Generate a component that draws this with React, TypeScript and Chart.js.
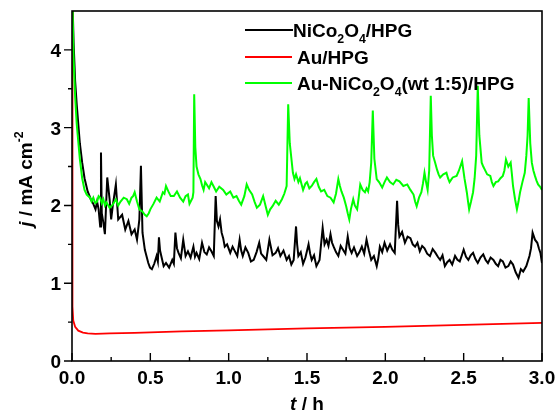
import React, { useEffect, useRef } from 'react';
import { Chart, registerables } from 'chart.js';

Chart.register(...registerables);

// [t (h), j (mA cm^-2)]
const nicoPoints: number[][] = [
  [0, 5.5], [0.005, 4.5], [0.01, 4.1], [0.02, 3.6], [0.03, 3.3], [0.05, 2.8], [0.065, 2.55], [0.08, 2.35],
  [0.1, 2.18], [0.12, 2.08], [0.136, 2.02], [0.15, 1.95], [0.16, 2.05], [0.17, 1.95], [0.18, 1.73], [0.185, 2.68],
  [0.19, 1.9], [0.2, 1.78], [0.21, 1.63], [0.225, 2.36], [0.24, 2.08], [0.25, 1.82], [0.26, 1.99], [0.28, 2.27],
  [0.295, 1.82], [0.32, 1.88], [0.34, 1.69], [0.36, 1.8], [0.38, 1.63], [0.4, 1.69], [0.415, 1.56], [0.43, 1.82],
  [0.44, 2.51], [0.45, 1.65], [0.465, 1.43], [0.487, 1.26], [0.498, 1.2], [0.51, 1.18], [0.525, 1.25], [0.54, 1.35],
  [0.548, 1.28], [0.555, 1.59], [0.562, 1.42], [0.57, 1.35], [0.585, 1.22], [0.6, 1.26], [0.62, 1.2], [0.64, 1.3],
  [0.65, 1.25], [0.66, 1.65], [0.67, 1.45], [0.68, 1.39], [0.695, 1.32], [0.71, 1.56], [0.725, 1.35], [0.74, 1.41],
  [0.757, 1.33], [0.775, 1.47], [0.785, 1.34], [0.795, 1.39], [0.812, 1.31], [0.83, 1.52], [0.845, 1.4], [0.86, 1.37],
  [0.875, 1.46], [0.89, 1.41], [0.905, 1.35], [0.917, 2.12], [0.925, 1.8], [0.935, 1.73], [0.945, 1.82], [0.955, 1.65],
  [0.965, 1.58], [0.975, 1.47], [0.99, 1.5], [1.01, 1.39], [1.025, 1.47], [1.04, 1.41], [1.055, 1.35], [1.07, 1.56],
  [1.08, 1.42], [1.09, 1.35], [1.107, 1.46], [1.125, 1.39], [1.142, 1.28], [1.16, 1.3], [1.178, 1.4], [1.195, 1.52],
  [1.207, 1.38], [1.22, 1.35], [1.24, 1.3], [1.26, 1.56], [1.28, 1.36], [1.3, 1.39], [1.315, 1.45], [1.33, 1.35],
  [1.35, 1.42], [1.37, 1.3], [1.385, 1.35], [1.4, 1.24], [1.415, 1.3], [1.43, 1.73], [1.437, 1.5], [1.445, 1.35],
  [1.46, 1.4], [1.475, 1.25], [1.49, 1.33], [1.51, 1.5], [1.52, 1.38], [1.53, 1.3], [1.545, 1.36], [1.56, 1.22],
  [1.58, 1.3], [1.6, 1.71], [1.612, 1.5], [1.625, 1.56], [1.637, 1.48], [1.65, 1.63], [1.66, 1.52], [1.67, 1.47],
  [1.685, 1.4], [1.7, 1.35], [1.715, 1.48], [1.73, 1.43], [1.745, 1.38], [1.76, 1.6], [1.772, 1.45], [1.785, 1.39],
  [1.8, 1.46], [1.82, 1.35], [1.835, 1.4], [1.85, 1.47], [1.865, 1.38], [1.88, 1.56], [1.895, 1.42], [1.91, 1.3],
  [1.927, 1.35], [1.945, 1.22], [1.955, 1.32], [1.965, 1.47], [1.98, 1.4], [1.995, 1.52], [2.012, 1.42], [2.03, 1.5],
  [2.045, 1.43], [2.06, 1.39], [2.075, 2.06], [2.082, 1.75], [2.09, 1.6], [2.107, 1.66], [2.125, 1.52], [2.142, 1.6],
  [2.16, 1.58], [2.175, 1.5], [2.19, 1.47], [2.205, 1.52], [2.22, 1.41], [2.235, 1.48], [2.25, 1.45], [2.267, 1.38],
  [2.285, 1.35], [2.302, 1.44], [2.32, 1.39], [2.335, 1.34], [2.35, 1.3], [2.365, 1.36], [2.38, 1.22], [2.395, 1.27],
  [2.41, 1.3], [2.427, 1.24], [2.445, 1.35], [2.46, 1.3], [2.475, 1.28], [2.487, 1.35], [2.5, 1.43], [2.515, 1.34],
  [2.53, 1.3], [2.545, 1.36], [2.56, 1.39], [2.575, 1.31], [2.59, 1.26], [2.607, 1.33], [2.625, 1.37], [2.64, 1.3],
  [2.655, 1.26], [2.672, 1.33], [2.69, 1.3], [2.705, 1.25], [2.72, 1.22], [2.735, 1.3], [2.75, 1.28], [2.767, 1.2],
  [2.785, 1.22], [2.8, 1.28], [2.815, 1.24], [2.832, 1.14], [2.85, 1.07], [2.865, 1.18], [2.88, 1.15], [2.9, 1.22],
  [2.92, 1.35], [2.93, 1.45], [2.94, 1.65], [2.955, 1.56], [2.97, 1.52], [2.98, 1.45], [2.99, 1.39], [3.0, 1.26],
];

const auPoints: number[][] = [
  [0, 4.6], [0.002, 1.2], [0.004, 0.7], [0.008, 0.52], [0.02, 0.44], [0.04, 0.39], [0.07, 0.365], [0.1, 0.355],
  [0.15, 0.35], [0.24, 0.355], [0.4, 0.362], [0.7, 0.38], [1.0, 0.395], [1.5, 0.42], [2.0, 0.44], [2.5, 0.465],
  [3.0, 0.49],
];

const mixPoints: number[][] = [
  [0, 5.5], [0.003, 4.6], [0.01, 3.9], [0.02, 3.4], [0.03, 3.05], [0.05, 2.6], [0.065, 2.35], [0.08, 2.2],
  [0.094, 2.14], [0.115, 2.1], [0.125, 2.05], [0.136, 2.1], [0.148, 2.03], [0.16, 2.05], [0.17, 2.12], [0.18, 2.1],
  [0.19, 2.03], [0.2, 2.08], [0.21, 2.0], [0.22, 2.04], [0.24, 1.97], [0.26, 2.01], [0.28, 2.08], [0.295, 2.0],
  [0.31, 2.05], [0.33, 2.1], [0.35, 2.08], [0.365, 2.02], [0.38, 2.1], [0.39, 2.12], [0.4, 2.17], [0.415, 2.05],
  [0.43, 1.95], [0.45, 1.92], [0.465, 1.88], [0.477, 1.86], [0.49, 1.9], [0.5, 1.95], [0.52, 2.02], [0.54, 2.1],
  [0.56, 2.05], [0.58, 2.17], [0.59, 2.15], [0.6, 2.25], [0.615, 2.18], [0.63, 2.12], [0.65, 2.12], [0.67, 2.18],
  [0.69, 2.1], [0.71, 2.05], [0.725, 2.12], [0.74, 2.14], [0.75, 2.02], [0.76, 2.06], [0.77, 2.1], [0.775, 2.17],
  [0.78, 3.43], [0.787, 2.75], [0.795, 2.5], [0.807, 2.4], [0.82, 2.34], [0.83, 2.26], [0.84, 2.2], [0.85, 2.3],
  [0.86, 2.27], [0.875, 2.22], [0.89, 2.3], [0.905, 2.24], [0.92, 2.18], [0.94, 2.24], [0.965, 2.2], [0.985, 2.14],
  [1.01, 2.18], [1.03, 2.1], [1.05, 2.12], [1.065, 2.06], [1.08, 2.01], [1.1, 2.12], [1.115, 2.27], [1.13, 2.2],
  [1.15, 2.14], [1.165, 2.05], [1.18, 1.97], [1.2, 2.01], [1.22, 2.12], [1.235, 2.0], [1.25, 1.88], [1.265, 1.95],
  [1.28, 1.99], [1.3, 2.06], [1.32, 2.01], [1.34, 2.08], [1.355, 2.15], [1.37, 2.25], [1.38, 3.3], [1.39, 2.8],
  [1.41, 2.42], [1.42, 2.34], [1.43, 2.4], [1.445, 2.3], [1.455, 2.35], [1.475, 2.2], [1.49, 2.28], [1.5, 2.3],
  [1.515, 2.22], [1.53, 2.25], [1.545, 2.3], [1.56, 2.34], [1.575, 2.24], [1.59, 2.18], [1.61, 2.2], [1.63, 2.12],
  [1.65, 2.1], [1.67, 2.04], [1.685, 2.15], [1.7, 2.34], [1.71, 2.25], [1.72, 2.18], [1.735, 2.1], [1.75, 1.99],
  [1.76, 1.9], [1.77, 1.82], [1.78, 1.95], [1.795, 2.08], [1.805, 2.0], [1.82, 1.95], [1.83, 2.1], [1.84, 2.27],
  [1.855, 2.2], [1.87, 2.17], [1.88, 2.22], [1.89, 2.18], [1.9, 2.3], [1.91, 2.55], [1.92, 3.22], [1.93, 2.6],
  [1.945, 2.34], [1.96, 2.3], [1.98, 2.23], [1.995, 2.3], [2.01, 2.36], [2.03, 2.3], [2.05, 2.27], [2.07, 2.33],
  [2.09, 2.31], [2.115, 2.25], [2.14, 2.27], [2.16, 2.2], [2.18, 2.14], [2.19, 2.05], [2.2, 1.99], [2.215, 2.1],
  [2.23, 2.17], [2.24, 2.28], [2.25, 2.42], [2.26, 2.3], [2.27, 2.2], [2.28, 2.45], [2.29, 3.41], [2.297, 2.9],
  [2.305, 2.64], [2.318, 2.55], [2.33, 2.46], [2.34, 2.4], [2.35, 2.36], [2.37, 2.4], [2.39, 2.42], [2.4, 2.35],
  [2.41, 2.3], [2.43, 2.36], [2.455, 2.38], [2.47, 2.45], [2.49, 2.57], [2.505, 2.35], [2.52, 2.17], [2.528, 2.05],
  [2.535, 1.95], [2.547, 2.05], [2.56, 2.17], [2.57, 2.35], [2.58, 2.64], [2.59, 3.54], [2.6, 2.9], [2.615, 2.55],
  [2.625, 2.5], [2.635, 2.46], [2.65, 2.4], [2.67, 2.38], [2.68, 2.3], [2.69, 2.25], [2.705, 2.3], [2.72, 2.31],
  [2.735, 2.35], [2.75, 2.38], [2.76, 2.45], [2.77, 2.59], [2.785, 2.5], [2.8, 2.55], [2.808, 2.4], [2.815, 2.25],
  [2.828, 2.08], [2.84, 1.95], [2.85, 2.05], [2.86, 2.17], [2.875, 2.3], [2.89, 2.42], [2.9, 2.64], [2.908, 2.9],
  [2.915, 3.38], [2.925, 2.8], [2.935, 2.55], [2.945, 2.45], [2.955, 2.38], [2.965, 2.32], [2.975, 2.27], [2.988, 2.24],
  [3.0, 2.2],
];

const xTicks = [0, 0.5, 1.0, 1.5, 2.0, 2.5, 3.0];
const xMinorTicks = [0.25, 0.75, 1.25, 1.75, 2.25, 2.75];
const yTicks = [0, 1, 2, 3, 4];
const yMinorTicks = [0.5, 1.5, 2.5, 3.5];

type Seg = { t: string; sub?: boolean; sup?: boolean; italic?: boolean };

const legendItems: { color: string; label: Seg[] }[] = [
  { color: '#000000', label: [{ t: 'NiCo' }, { t: '2', sub: true }, { t: 'O' }, { t: '4', sub: true }, { t: '/HPG' }] },
  { color: '#ff0000', label: [{ t: 'Au/HPG' }] },
  {
    color: '#00ff00',
    label: [{ t: 'Au-NiCo' }, { t: '2', sub: true }, { t: 'O' }, { t: '4', sub: true }, { t: '(wt 1:5)/HPG' }],
  },
];
const yTitle: Seg[] = [{ t: 'j', italic: true }, { t: ' / mA cm' }, { t: '-2', sup: true }];
const xTitle: Seg[] = [{ t: 't', italic: true }, { t: ' / h' }];

const FAMILY = '"Liberation Sans", Arial, Helvetica, sans-serif';
const FS = 19;

function fontFor(size: number, italic?: boolean) {
  return `${italic ? 'italic ' : ''}bold ${size}px ${FAMILY}`;
}

function richWidth(ctx: CanvasRenderingContext2D, segs: Seg[], size: number) {
  let w = 0;
  for (const s of segs) {
    const sz = s.sub || s.sup ? size * 0.65 : size;
    ctx.font = fontFor(sz, s.italic);
    w += ctx.measureText(s.t).width;
  }
  return w;
}

function drawRich(
  ctx: CanvasRenderingContext2D,
  segs: Seg[],
  x: number,
  y: number,
  size: number,
  align: 'left' | 'center'
) {
  const w = richWidth(ctx, segs, size);
  let cx = align === 'center' ? x - w / 2 : x;
  ctx.textAlign = 'left';
  ctx.textBaseline = 'alphabetic';
  for (const s of segs) {
    const sz = s.sub || s.sup ? size * 0.65 : size;
    const dy = s.sub ? size * 0.3 : s.sup ? -size * 0.45 : 0;
    ctx.font = fontFor(sz, s.italic);
    ctx.fillText(s.t, cx, y + dy);
    cx += ctx.measureText(s.t).width;
  }
}

const framePlugin = {
  id: 'framePlugin',
  afterDraw(chart: any) {
    const ctx: CanvasRenderingContext2D = chart.ctx;
    const { left, right, top, bottom } = chart.chartArea;
    const xs = chart.scales.x;
    const ys = chart.scales.y;
    ctx.save();
    ctx.strokeStyle = '#000';
    ctx.fillStyle = '#000';
    ctx.lineWidth = 1.6;
    ctx.strokeRect(left, top, right - left, bottom - top);

    ctx.lineWidth = 1.4;
    ctx.beginPath();
    for (const v of yTicks) {
      const p = ys.getPixelForValue(v);
      ctx.moveTo(left - 8, p);
      ctx.lineTo(left, p);
    }
    for (const v of yMinorTicks) {
      const p = ys.getPixelForValue(v);
      ctx.moveTo(left - 4, p);
      ctx.lineTo(left, p);
    }
    for (const v of xTicks) {
      const p = xs.getPixelForValue(v);
      ctx.moveTo(p, bottom);
      ctx.lineTo(p, bottom - 8);
    }
    for (const v of xMinorTicks) {
      const p = xs.getPixelForValue(v);
      ctx.moveTo(p, bottom);
      ctx.lineTo(p, bottom - 4);
    }
    ctx.stroke();

    // tick labels
    ctx.font = fontFor(FS);
    ctx.textBaseline = 'alphabetic';
    ctx.textAlign = 'center';
    for (const v of xTicks) {
      ctx.fillText(v.toFixed(1), xs.getPixelForValue(v), bottom + 23);
    }
    ctx.textAlign = 'right';
    for (const v of yTicks) {
      ctx.fillText(String(v), left - 11, ys.getPixelForValue(v) + 7);
    }

    // axis titles
    drawRich(ctx, xTitle, (left + right) / 2, bottom + 49, FS, 'center');
    ctx.save();
    ctx.translate(32, (top + bottom) / 2 - 7);
    ctx.rotate(-Math.PI / 2);
    drawRich(ctx, yTitle, 0, 0, FS, 'center');
    ctx.restore();

    // legend
    const rowY = [30, 57, 83];
    legendItems.forEach((it, i) => {
      const y = rowY[i];
      ctx.strokeStyle = it.color;
      ctx.lineWidth = 2;
      ctx.beginPath();
      ctx.moveTo(245, y);
      ctx.lineTo(i === 0 ? 293 : 292, y);
      ctx.stroke();
      ctx.fillStyle = '#000';
      drawRich(ctx, it.label, i === 0 ? 293 : 297, y + 7, FS, 'left');
    });
    ctx.restore();
  },
};

export default function App() {
  const ref = useRef<HTMLCanvasElement | null>(null);
  useEffect(() => {
    if (!ref.current) return;
    const toXY = (pts: number[][]) => pts.map(([x, y]) => ({ x, y }));
    const chart = new Chart(ref.current, {
      type: 'line',
      data: {
        datasets: [
          {
            label: 'Au-NiCo2O4(wt 1:5)/HPG',
            data: toXY(mixPoints),
            borderColor: '#00ff00',
            borderWidth: 2,
            pointRadius: 0,
            tension: 0,
          },
          {
            label: 'Au/HPG',
            data: toXY(auPoints),
            borderColor: '#ff0000',
            borderWidth: 1.8,
            pointRadius: 0,
            tension: 0,
          },
          {
            label: 'NiCo2O4/HPG',
            data: toXY(nicoPoints),
            borderColor: '#000000',
            borderWidth: 2,
            pointRadius: 0,
            tension: 0,
          },
        ],
      },
      options: {
        animation: false,
        responsive: false,
        maintainAspectRatio: false,
        layout: { padding: { left: 0, top: 11, right: 16, bottom: 0 } },
        plugins: { legend: { display: false }, tooltip: { enabled: false } },
        scales: {
          x: {
            type: 'linear',
            min: 0,
            max: 3,
            ticks: { display: false },
            grid: { display: false },
            border: { display: false },
            afterFit: (s: any) => {
              s.height = 53;
            },
          },
          y: {
            type: 'linear',
            min: 0,
            max: 4.5,
            ticks: { display: false },
            grid: { display: false },
            border: { display: false },
            afterFit: (s: any) => {
              s.width = 72;
            },
          },
        },
      },
      plugins: [framePlugin],
    } as any);
    return () => chart.destroy();
  }, []);
  return (
    <div style={{ position: 'absolute', left: 0, top: 0, width: 558, height: 414, background: '#fff' }}>
      <canvas ref={ref} width={558} height={414} style={{ display: 'block' }} />
    </div>
  );
}
